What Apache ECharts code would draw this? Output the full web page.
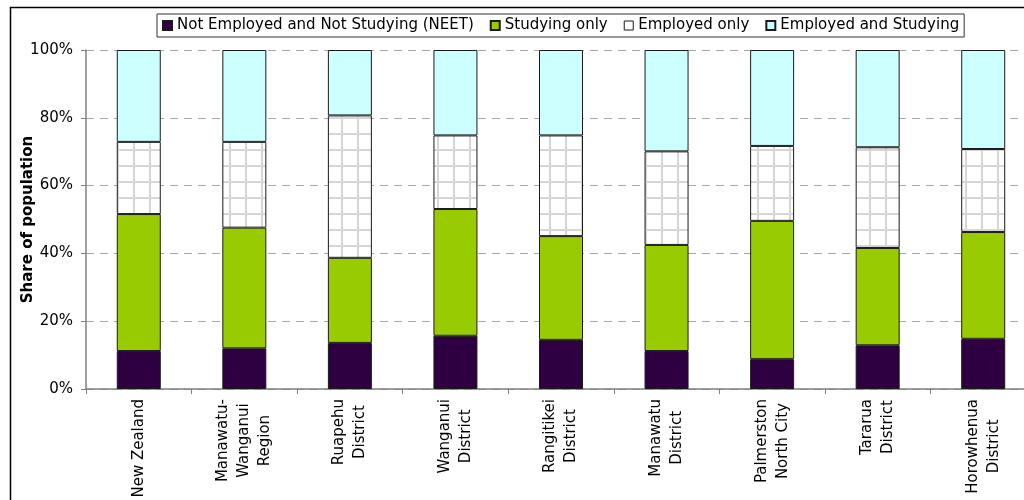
<!DOCTYPE html>
<html>
<head>
<meta charset="utf-8">
<script src="https://cdn.jsdelivr.net/npm/echarts@6/dist/echarts.min.js"></script>
<style>
  html, body { margin: 0; padding: 0; background: #fff; }
  #chart { width: 1024px; height: 500px; }
</style>
</head>
<body>
<div id="chart"></div>
<script>
// Areas shown along the x axis
const categories = [
  'New Zealand',
  'Manawatu-\nWanganui\nRegion',
  'Ruapehu\nDistrict',
  'Wanganui\nDistrict',
  'Rangitikei\nDistrict',
  'Manawatu\nDistrict',
  'Palmerston\nNorth City',
  'Tararua\nDistrict',
  'Horowhenua\nDistrict'
];

// Share of population (%) in each activity group
const neet = [11.2, 12.0, 13.6, 15.7, 14.5, 11.2, 8.8, 12.9, 14.8];
const studyingOnly = [40.4, 35.6, 25.1, 37.4, 30.6, 31.3, 40.8, 28.7, 31.5];
const employedOnly = [21.3, 25.3, 42.0, 21.7, 29.7, 27.6, 22.1, 29.7, 24.5];
const employedAndStudying = [27.1, 27.1, 19.3, 25.2, 25.2, 29.9, 28.3, 28.7, 29.2];

const seriesNames = [
  'Not Employed and Not Studying (NEET)',
  'Studying only',
  'Employed only',
  'Employed and Studying'
];

const yTicks = { min: 0, max: 100, interval: 20 };

// Light grey checked fill for the "Employed only" segments
function makeGridPattern() {
  const c = document.createElement('canvas');
  c.width = 16; c.height = 16;
  const g = c.getContext('2d');
  g.fillStyle = '#ffffff';
  g.fillRect(0, 0, 16, 16);
  g.fillStyle = '#d6d6d6';
  g.fillRect(5, 0, 2, 16);
  g.fillRect(0, 5, 16, 2);
  return c;
}

const FONT = '"DejaVu Sans", Verdana, sans-serif';
const chart = echarts.init(document.getElementById('chart'), null, { renderer: 'canvas' });

const border = { borderColor: '#1a1a1a', borderWidth: 1 };

function barSeries(name, data, color) {
  return {
    name: name,
    type: 'bar',
    stack: 'total',
    barWidth: 44,
    data: data,
    itemStyle: Object.assign({ color: color }, border),
    emphasis: { disabled: true }
  };
}

chart.setOption({
  animation: false,
  backgroundColor: '#ffffff',
  textStyle: { fontFamily: FONT },
  graphic: [{
    type: 'rect',
    left: 8, top: 5,
    shape: { width: 1200, height: 700 },
    style: { fill: 'none', stroke: '#000', lineWidth: 1.5 },
    silent: true,
    z: -1
  }],
  legend: {
    left: 157,
    top: 14,
    padding: [4, 5, 4, 5],
    itemGap: 16,
    itemWidth: 9,
    itemHeight: 9,
    icon: 'rect',
    borderColor: '#333',
    borderWidth: 1,
    textStyle: { fontFamily: FONT, fontSize: 15, color: '#000' },
    data: [
      { name: seriesNames[0] },
      { name: seriesNames[1] },
      { name: seriesNames[2], itemStyle: { color: '#ffffff', borderColor: '#1a1a1a', borderWidth: 1 } },
      { name: seriesNames[3] }
    ]
  },
  grid: { left: 86, top: 50, width: 950, height: 339, outerBoundsMode: 'none' },
  xAxis: {
    type: 'category',
    data: categories,
    axisLine: { lineStyle: { color: '#808080', width: 1.5 } },
    axisTick: { show: true, length: 5, lineStyle: { color: '#808080' } },
    axisLabel: {
      rotate: 90,
      margin: 10,
      interval: 0,
      color: '#000',
      fontFamily: FONT,
      fontSize: 15,
      lineHeight: 21,
      formatter: function (v) {
        return v.split('\n').map(function (s) { return '{c|' + s + '}'; }).join('\n');
      },
      rich: {
        c: { align: 'center', fontFamily: FONT, fontSize: 15, lineHeight: 21, color: '#000' }
      }
    }
  },
  yAxis: {
    type: 'value',
    min: yTicks.min,
    max: yTicks.max,
    interval: yTicks.interval,
    name: 'Share of population',
    nameLocation: 'middle',
    nameGap: 50,
    nameMoveOverlap: false,
    nameTextStyle: { fontFamily: FONT, fontSize: 15, fontWeight: 'bold', color: '#000' },
    axisLine: { show: true, lineStyle: { color: '#808080', width: 1.5 } },
    axisTick: { show: true, length: 5, lineStyle: { color: '#808080' } },
    axisLabel: { formatter: '{value}%', margin: 13, color: '#000', fontFamily: FONT, fontSize: 15 },
    splitLine: { show: true, lineStyle: { color: '#a6a6a6', type: [8, 6], width: 1 } }
  },
  series: [
    barSeries(seriesNames[0], neet, '#2e0042'),
    barSeries(seriesNames[1], studyingOnly, '#99cc00'),
    barSeries(seriesNames[2], employedOnly, { image: makeGridPattern(), repeat: 'repeat' }),
    barSeries(seriesNames[3], employedAndStudying, '#ccffff')
  ]
});
</script>
</body>
</html>
